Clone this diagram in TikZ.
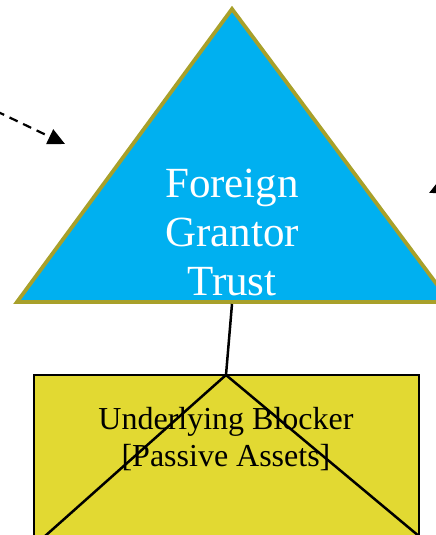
\documentclass[tikz,border=0pt]{standalone}
\usepackage{fontspec}
\setmainfont{Liberation Serif}
\usetikzlibrary{arrows.meta}
\definecolor{trustfill}{HTML}{00B0F0}
\definecolor{trustedge}{HTML}{A8A02A}
\definecolor{blockfill}{HTML}{E2D932}
\tikzset{
  trustshape/.style={fill=trustfill,draw=trustedge,line width=3.8pt,line join=miter},
  blockshape/.style={fill=blockfill,draw=black,line width=2.4pt},
  link/.style={draw=black,line width=2.5pt},
  dasharrow/.style={draw=black,line width=2.2pt,dash pattern=on 9pt off 6pt,-{Triangle[length=17pt,width=16pt]}},
  trusttext/.style={text=white,align=center,inner sep=0pt,font=\fontsize{43}{49}\selectfont},
  blocktext/.style={text=black,align=center,inner sep=0pt,font=\fontsize{32}{37}\selectfont}
}
\begin{document}
\begin{tikzpicture}[x=1pt,y=-1pt]
\useasboundingbox (0,0) rectangle (436,535);
\clip (0,0) rectangle (436,535);
% coordinates
\coordinate (apex) at (232,9);
\coordinate (tbl) at (17,302);
\coordinate (tbr) at (450,302);
\coordinate (tbase) at (232,304);
\coordinate (btop) at (226,375);
\coordinate (bl) at (44,537);
\coordinate (br) at (420,537);
% trust triangle
\path[trustshape] (apex) -- (tbr) -- (tbl) -- cycle;
\node[trusttext] (trust) at (232,232) {Foreign\\Grantor\\Trust};
% blocker box
\path[blockshape] (34,375) rectangle (419,545);
\node[blocktext] (blocker) at (226,439.5) {Underlying Blocker\\{[}Passive Assets{]}};
\draw[link] (btop) -- (bl);
\draw[link] (btop) -- (br);
% connector
\draw[link] (tbase) -- (btop);
% arrows
\coordinate (lstart) at (-4,111);
\coordinate (ltip) at (65,144);
\draw[dasharrow] (lstart) -- (ltip);
\coordinate (rstart) at (500,159);
\coordinate (rtip) at (429,193);
\draw[dasharrow] (rstart) -- (rtip);
\end{tikzpicture}
\end{document}
